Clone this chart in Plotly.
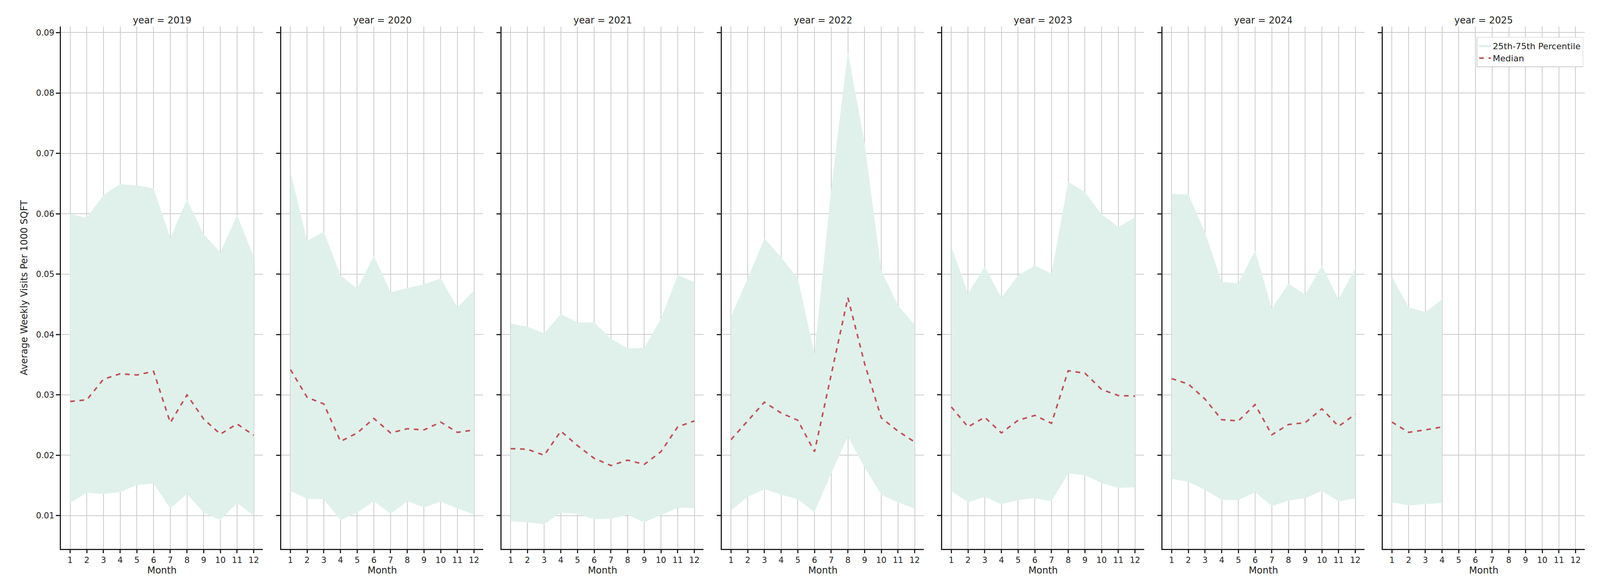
import plotly.graph_objects as go
from plotly.subplots import make_subplots

years = [2019, 2020, 2021, 2022, 2023, 2024, 2025]
months = list(range(1, 13))

median = {
    2019: [0.0289, 0.0292, 0.0326, 0.0335, 0.0333, 0.0339, 0.0254, 0.0300, 0.0260, 0.0235, 0.0252, 0.0233],
    2020: [0.0342, 0.0296, 0.0285, 0.0223, 0.0237, 0.0261, 0.0237, 0.0244, 0.0242, 0.0255, 0.0238, 0.0242],
    2021: [0.0211, 0.0210, 0.0200, 0.0240, 0.0216, 0.0195, 0.0183, 0.0192, 0.0185, 0.0206, 0.0247, 0.0257],
    2022: [0.0226, 0.0257, 0.0288, 0.0270, 0.0258, 0.0206, 0.0333, 0.0461, 0.0352, 0.0262, 0.0240, 0.0222],
    2023: [0.0280, 0.0247, 0.0263, 0.0237, 0.0258, 0.0266, 0.0253, 0.0340, 0.0336, 0.0309, 0.0299, 0.0298],
    2024: [0.0327, 0.0318, 0.0293, 0.0259, 0.0257, 0.0284, 0.0234, 0.0251, 0.0254, 0.0277, 0.0248, 0.0268],
    2025: [0.0255, 0.0238, 0.0242, 0.0247],
}
p25 = {
    2019: [0.0121, 0.0138, 0.0136, 0.0139, 0.0151, 0.0153, 0.0112, 0.0136, 0.0105, 0.0093, 0.0121, 0.0100],
    2020: [0.0141, 0.0128, 0.0127, 0.0093, 0.0105, 0.0124, 0.0103, 0.0124, 0.0114, 0.0123, 0.0112, 0.0102],
    2021: [0.0091, 0.0089, 0.0086, 0.0105, 0.0103, 0.0094, 0.0095, 0.0101, 0.0089, 0.0101, 0.0113, 0.0113],
    2022: [0.0109, 0.0131, 0.0144, 0.0135, 0.0127, 0.0106, 0.0170, 0.0231, 0.0180, 0.0135, 0.0122, 0.0112],
    2023: [0.0141, 0.0122, 0.0131, 0.0119, 0.0126, 0.0129, 0.0124, 0.0170, 0.0167, 0.0154, 0.0146, 0.0147],
    2024: [0.0161, 0.0156, 0.0143, 0.0126, 0.0126, 0.0139, 0.0116, 0.0125, 0.0129, 0.0141, 0.0124, 0.0129],
    2025: [0.0122, 0.0117, 0.0119, 0.0121],
}
p75 = {
    2019: [0.0600, 0.0593, 0.0631, 0.0649, 0.0647, 0.0642, 0.0560, 0.0623, 0.0566, 0.0536, 0.0598, 0.0528],
    2020: [0.0670, 0.0555, 0.0570, 0.0498, 0.0476, 0.0530, 0.0470, 0.0477, 0.0483, 0.0493, 0.0445, 0.0473],
    2021: [0.0418, 0.0413, 0.0402, 0.0434, 0.0420, 0.0420, 0.0393, 0.0377, 0.0378, 0.0426, 0.0498, 0.0487],
    2022: [0.0430, 0.0493, 0.0559, 0.0528, 0.0493, 0.0368, 0.0641, 0.0868, 0.0717, 0.0506, 0.0448, 0.0416],
    2023: [0.0546, 0.0468, 0.0512, 0.0461, 0.0498, 0.0514, 0.0501, 0.0653, 0.0636, 0.0599, 0.0578, 0.0594],
    2024: [0.0633, 0.0632, 0.0569, 0.0487, 0.0485, 0.0539, 0.0443, 0.0484, 0.0466, 0.0514, 0.0458, 0.0510],
    2025: [0.0496, 0.0445, 0.0437, 0.0458],
}

fill_col = "rgb(224,241,236)"
line_col = "#c44e52"
fnt = "DejaVu Sans"

fig = make_subplots(rows=1, cols=len(years), shared_yaxes=True,
                    horizontal_spacing=0.012,
                    subplot_titles=[f"year = {y}" for y in years])

for i, y in enumerate(years):
    col = i + 1
    n = len(median[y])
    x = months[:n]
    last = (i == len(years) - 1)
    fig.add_trace(go.Scatter(x=x, y=p25[y], mode="lines", line=dict(width=0),
                             showlegend=False, hoverinfo="skip"), row=1, col=col)
    fig.add_trace(go.Scatter(x=x, y=p75[y], mode="lines", line=dict(width=0),
                             fill="tonexty", fillcolor=fill_col,
                             name="25th-75th Percentile", showlegend=last,
                             legendrank=2), row=1, col=col)
    fig.add_trace(go.Scatter(x=x, y=median[y], mode="lines",
                             line=dict(color=line_col, width=4, dash="dash"),
                             name="Median", showlegend=last, legendrank=1), row=1, col=col)

fig.update_xaxes(range=[0.45, 12.55], tickvals=months, showgrid=True, gridcolor="#cccccc",
                 gridwidth=1.5, showline=True, linecolor="#222", linewidth=2.5, ticks="outside",
                 ticklen=8, tickwidth=2.5, tickcolor="#222", zeroline=False,
                 tickfont=dict(size=21, family=fnt, color="#222"),
                 title=dict(text="Month", font=dict(size=24, family=fnt, color="#222"), standoff=6))
fig.update_yaxes(range=[0.0045, 0.091], tickvals=[0.01, 0.02, 0.03, 0.04, 0.05, 0.06, 0.07, 0.08, 0.09],
                 tickformat=".2f", showgrid=True, gridcolor="#cccccc", gridwidth=1.5,
                 showline=True, linecolor="#222", linewidth=2.5, ticks="outside",
                 ticklen=10, tickwidth=2.5, tickcolor="#222", zeroline=False,
                 tickfont=dict(size=21, family=fnt, color="#222"))
fig.update_yaxes(title=dict(text="Average Weekly Visits Per 1000 SQFT",
                            font=dict(size=24, family=fnt, color="#222")), row=1, col=1)
fig.update_annotations(font=dict(size=24, family=fnt, color="#222"))

fig.update_layout(autosize=True, plot_bgcolor="white", paper_bgcolor="white",
                  margin=dict(l=148, r=31, t=60, b=103),
                  legend=dict(x=0.999, y=0.98, xanchor="right", yanchor="top",
                              bgcolor="white", bordercolor="#cccccc", borderwidth=1.5,
                              font=dict(size=22, family=fnt, color="#222")))

fig.write_html("out.html", default_width="100%", default_height="100vh")
